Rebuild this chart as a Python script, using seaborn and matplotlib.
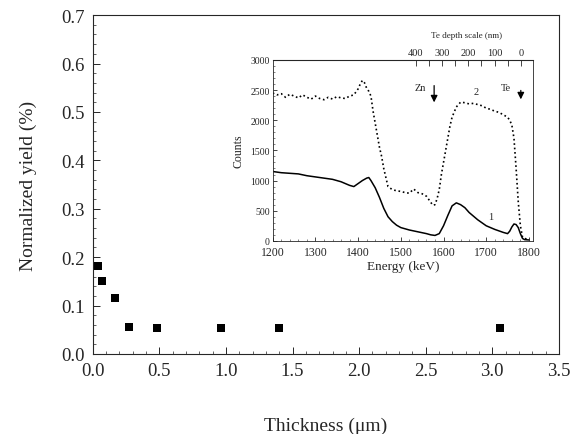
import matplotlib
matplotlib.use("Agg")
import matplotlib.pyplot as plt
from matplotlib.ticker import MultipleLocator
import seaborn as sns
import pandas as pd

# Main plot: normalized yield vs. layer thickness
thickness = [0.04, 0.07, 0.17, 0.27, 0.48, 0.96, 1.40, 3.06]
norm_yield = [0.182, 0.151, 0.116, 0.056, 0.053, 0.053, 0.053, 0.053]

# Inset spectra (counts vs. energy)
energy_upper = [1200, 1210, 1220, 1230, 1240, 1250, 1260, 1270, 1280, 1290, 1300, 1310, 1320,
                1330, 1340, 1350, 1360, 1370, 1380, 1390, 1400, 1405, 1410, 1415, 1420, 1425,
                1430, 1435, 1440, 1445, 1450, 1455, 1460, 1465, 1470, 1480, 1490, 1500, 1510,
                1520, 1530, 1540, 1550, 1560, 1570, 1575, 1580, 1585, 1590, 1595, 1600, 1605,
                1610, 1615, 1620, 1630, 1640, 1650, 1660, 1670, 1680, 1690, 1700, 1710, 1720,
                1730, 1740, 1750, 1755, 1760, 1765, 1770, 1775, 1780, 1785, 1790, 1795, 1800]
counts_upper = [2450, 2420, 2440, 2380, 2430, 2400, 2370, 2420, 2380, 2350, 2400, 2360, 2340,
                2380, 2350, 2390, 2370, 2360, 2400, 2420, 2520, 2600, 2660, 2620, 2530, 2480,
                2400, 2150, 1950, 1750, 1550, 1400, 1200, 1050, 900, 850, 830, 820, 800,
                790, 860, 800, 780, 740, 640, 590, 600, 700, 850, 1100, 1300, 1500,
                1700, 1900, 2050, 2220, 2300, 2290, 2270, 2280, 2260, 2240, 2200, 2180, 2150,
                2130, 2090, 2050, 2000, 1920, 1700, 1200, 650, 250, 60, 40, 30, 50]

energy_lower = [1200, 1220, 1240, 1260, 1280, 1300, 1320, 1340, 1360, 1380, 1390, 1400, 1410,
                1420, 1425, 1430, 1440, 1450, 1460, 1470, 1480, 1490, 1500, 1520, 1540, 1560,
                1570, 1580, 1590, 1600, 1610, 1620, 1630, 1640, 1650, 1660, 1680, 1700, 1720,
                1740, 1750, 1755, 1760, 1765, 1770, 1775, 1780, 1785, 1790, 1800]
counts_lower = [1150, 1130, 1120, 1110, 1080, 1060, 1040, 1020, 980, 920, 900, 950, 1000,
                1040, 1050, 1000, 880, 720, 540, 400, 320, 260, 220, 180, 150, 120,
                100, 90, 120, 250, 420, 580, 630, 600, 550, 470, 350, 250, 190,
                140, 120, 160, 230, 280, 270, 220, 120, 40, 20, 15]

depth_ticks = [0, 100, 200, 300, 400]

main_df = pd.DataFrame({"Thickness": thickness, "Yield": norm_yield})
up_df = pd.DataFrame({"Energy": energy_upper, "Counts": counts_upper})
low_df = pd.DataFrame({"Energy": energy_lower, "Counts": counts_lower})

sns.set_style("ticks")
plt.rcParams["font.family"] = ["Liberation Serif", "DejaVu Serif"]
plt.rcParams["xtick.direction"] = "in"
plt.rcParams["ytick.direction"] = "in"

fig = plt.figure(figsize=(5.84, 4.35), dpi=100)
ax = fig.add_axes([0.159, 0.184, 0.798, 0.779])

sns.scatterplot(data=main_df, x="Thickness", y="Yield", marker="s", s=38,
                color="black", edgecolor="black", linewidth=0, ax=ax)
ax.set_xlim(0, 3.5)
ax.set_ylim(0, 0.7)
ax.xaxis.set_major_locator(MultipleLocator(0.5))
ax.xaxis.set_minor_locator(MultipleLocator(0.1))
ax.yaxis.set_major_locator(MultipleLocator(0.1))
ax.yaxis.set_minor_locator(MultipleLocator(0.02))
ax.xaxis.set_major_formatter(matplotlib.ticker.FormatStrFormatter("%.1f"))
ax.yaxis.set_major_formatter(matplotlib.ticker.FormatStrFormatter("%.1f"))
ax.tick_params(which="major", length=5, width=0.7, labelsize=13.5, pad=6)
ax.tick_params(which="minor", length=2.5, width=0.5)
ax.set_xlabel("Thickness (\u03bcm)", fontsize=14, labelpad=27)
ax.set_ylabel("Normalized yield (%)", fontsize=14, labelpad=17)
for sp in ax.spines.values():
    sp.set_linewidth(0.8)

# Inset
ins = fig.add_axes([0.467, 0.444, 0.446, 0.416])
sns.lineplot(data=up_df, x="Energy", y="Counts", color="black", linestyle=":",
             linewidth=1.2, ax=ins)
sns.lineplot(data=low_df, x="Energy", y="Counts", color="black", linewidth=1.1, ax=ins)
ins.set_xlim(1200, 1810)
ins.set_ylim(0, 3000)
ins.xaxis.set_major_locator(MultipleLocator(100))
ins.xaxis.set_minor_locator(MultipleLocator(20))
ins.yaxis.set_major_locator(MultipleLocator(500))
ins.yaxis.set_minor_locator(MultipleLocator(100))
ins.tick_params(which="major", length=3, width=0.6, pad=2)
ins.tick_params(axis="x", which="major", labelsize=8.5, pad=4)
ins.tick_params(axis="y", which="major", labelsize=7)
ins.tick_params(which="minor", length=1.5, width=0.4)
ins.set_xlabel("Energy (keV)", fontsize=9.5, labelpad=1)
ins.set_ylabel("Counts", fontsize=8.5, labelpad=4)
for sp in ins.spines.values():
    sp.set_linewidth(0.6)

# Te depth scale on top of the inset
e0, kev_per_nm = 1781, 0.615
top = ins.secondary_xaxis("top", functions=(lambda e: (e0 - e) / kev_per_nm,
                                             lambda d: e0 - d * kev_per_nm))
top.set_xticks(depth_ticks)
top.set_xticks([50, 150, 250, 350], minor=True)
top.tick_params(which="major", direction="in", length=4, width=0.6, labelsize=7.5, pad=2)
top.tick_params(which="minor", direction="in", length=4, width=0.6)
ins.text(1655, 3340, "Te depth scale (nm)", fontsize=6.5, ha="center", va="bottom")

# Annotations
arrow = dict(arrowstyle="-|>", color="black", lw=0.9, mutation_scale=10)
ins.annotate("", xy=(1578, 2250), xytext=(1578, 2620), arrowprops=arrow)
ins.text(1546, 2540, "Zn", fontsize=7.5, ha="center", va="center")
ins.annotate("", xy=(1781, 2300), xytext=(1781, 2540), arrowprops=arrow)
ins.text(1746, 2550, "Te", fontsize=7.5, ha="center", va="center")
ins.text(1676, 2470, "2", fontsize=7.5, ha="center", va="center")
ins.text(1710, 400, "1", fontsize=7.5, ha="center", va="center")

fig.savefig("out.png", dpi=100)
